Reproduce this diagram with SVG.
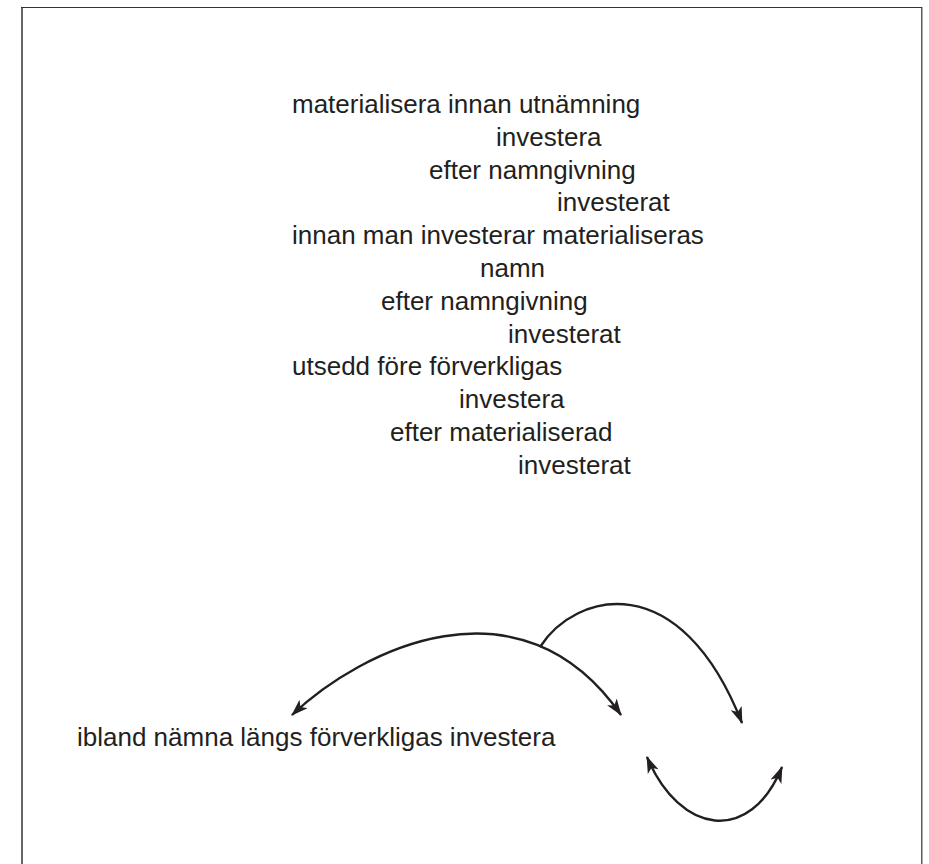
<svg xmlns="http://www.w3.org/2000/svg" width="929" height="864" viewBox="0 0 929 864">
<style>
.t{font-family:"Liberation Sans",Arial,sans-serif;font-size:26px;fill:#231f20}
.c{fill:none;stroke:#231f20;stroke-width:2.4}
</style>
<defs>
<marker id="ah" viewBox="0 0 16 11" refX="15" refY="5.5" markerWidth="17" markerHeight="12" markerUnits="userSpaceOnUse" orient="auto-start-reverse">
<path d="M0,0 L16,5.5 L0,11 L4,5.5 z" fill="#231f20"/>
</marker>
</defs>
<rect width="929" height="864" fill="#fff"/>
<g id="frame">
<line x1="22" y1="7" x2="22" y2="864" stroke="#666" stroke-width="2"/>
<line x1="21" y1="7.5" x2="922" y2="7.5" stroke="#333" stroke-width="1.2"/>
<line x1="921.8" y1="7" x2="921.8" y2="864" stroke="#333" stroke-width="1.2"/>
</g>
<g id="n1"><text class="t" x="292" y="113">materialisera innan utnämning</text></g>
<g id="n2"><text class="t" x="496" y="146">investera</text></g>
<g id="n3"><text class="t" x="429" y="179">efter namngivning</text></g>
<g id="n4"><text class="t" x="557" y="211">investerat</text></g>
<g id="n5"><text class="t" x="292" y="244">innan man investerar materialiseras</text></g>
<g id="n6"><text class="t" x="480" y="277">namn</text></g>
<g id="n7"><text class="t" x="381" y="310">efter namngivning</text></g>
<g id="n8"><text class="t" x="508" y="343">investerat</text></g>
<g id="n9"><text class="t" x="292" y="375">utsedd före förverkligas</text></g>
<g id="n10"><text class="t" x="459" y="408">investera</text></g>
<g id="n11"><text class="t" x="390" y="441">efter materialiserad</text></g>
<g id="n12"><text class="t" x="518" y="474">investerat</text></g>
<g id="n13"><text class="t" x="77" y="746">ibland nämna längs förverkligas investera</text></g>
<g id="connectors">
<path class="c" d="M292,715 C360,650 520,570 621,715" marker-start="url(#ah)" marker-end="url(#ah)"/>
<path class="c" d="M540,647 C575,592 680,565 742,723" marker-end="url(#ah)"/>
<path class="c" d="M647,757 C680,835 750,845 782,767" marker-start="url(#ah)" marker-end="url(#ah)"/>
</g>
</svg>
